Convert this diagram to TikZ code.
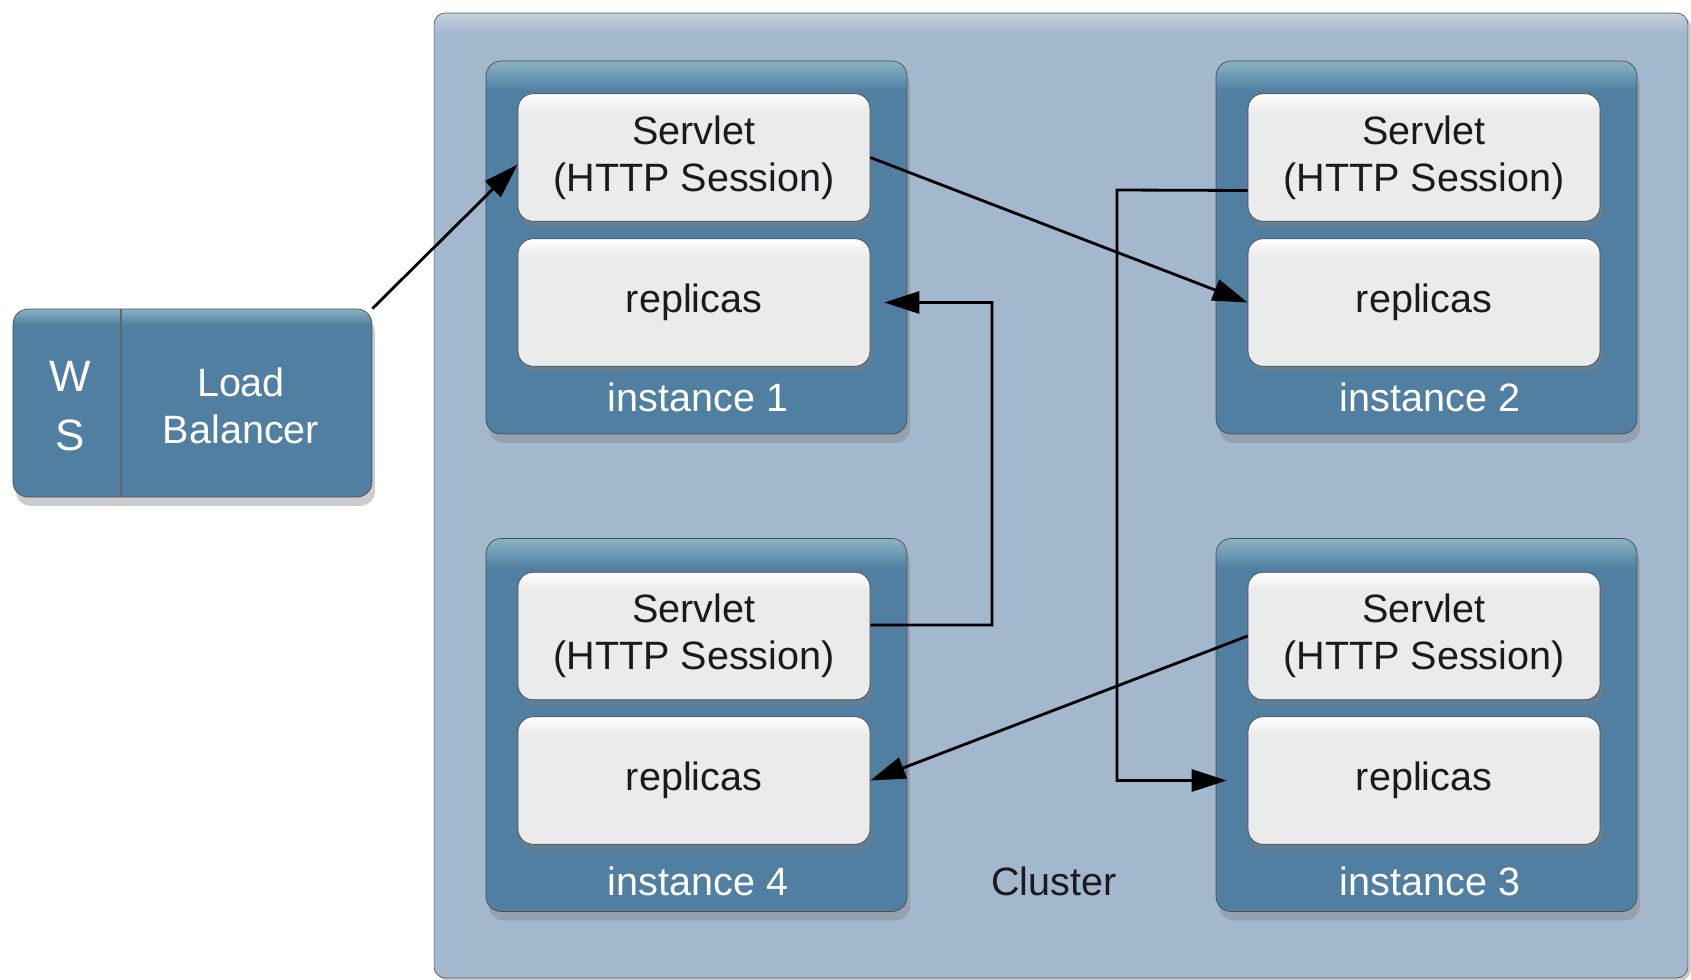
\documentclass[tikz,border=0pt]{standalone}
\usepackage{fontspec}
\setmainfont{Liberation Sans}
\usetikzlibrary{arrows.meta,shadows}

\definecolor{clusterbg}{RGB}{164,184,205}
\definecolor{clusterlight}{RGB}{196,208,220}
\definecolor{instbg}{RGB}{80,127,162}
\definecolor{instlight}{RGB}{138,180,196}
\definecolor{boxbg}{RGB}{235,235,235}
\definecolor{textdark}{RGB}{25,25,30}

\pgfdeclareverticalshading{clustershade}{100bp}{color(0bp)=(clusterbg); color(25bp)=(clusterbg); color(74bp)=(clusterbg); color(75bp)=(clusterlight); color(100bp)=(clusterlight)}
\pgfdeclareverticalshading{instshade}{100bp}{color(0bp)=(instbg); color(25bp)=(instbg); color(71bp)=(instbg); color(75bp)=(instlight); color(100bp)=(instlight)}
\pgfdeclareverticalshading{boxshade}{100bp}{color(0bp)=(boxbg); color(25bp)=(boxbg); color(68bp)=(boxbg); color(75bp)=(white); color(100bp)=(white)}

\newcommand\diagfont{\fontsize{22.5pt}{26.7pt}\selectfont}

\begin{document}
\begin{tikzpicture}[x=0.02cm, y=-0.02cm]
	\tikzstyle{Cluster} = [rectangle, rounded corners=0.22cm, minimum width=25.08cm, minimum height=19.3cm, draw=black!65, shading=clustershade, drop shadow={shadow xshift=0.06cm, shadow yshift=-0.06cm, opacity=0.4}]
	\tikzstyle{Inst} = [rectangle, rounded corners=0.3cm, minimum width=8.42cm, minimum height=7.46cm, draw=black!70, shading=instshade, drop shadow={shadow xshift=0.06cm, shadow yshift=-0.18cm, opacity=0.4}]
	\tikzstyle{Box} = [rectangle, rounded corners=0.3cm, minimum width=7.04cm, minimum height=2.55cm, draw=black!70, shading=boxshade, text=textdark, align=center, font=\diagfont, drop shadow={shadow xshift=0.04cm, shadow yshift=-0.12cm, opacity=0.4}]
	\tikzstyle{Label} = [font=\diagfont, text=white, align=center]
	\tikzstyle{arrow} = [line width=1.6pt, -{Triangle[length=0.7cm, width=0.44cm]}]

	\useasboundingbox [fill=white] (0,0) rectangle (1691,980);

	% cluster and load balancer
	\node (cl) [Cluster] at (1061,495.5) {};
	\node (lb) [Inst, minimum width=7.18cm, minimum height=3.76cm] at (192.5,403) {};
	\draw [draw=black!60, line width=0.8pt] (121,309) -- (121,497);
	\node (ws) [Label, font=\fontsize{25pt}{33.5pt}\selectfont] at (70,406) {W\\S};
	\node (lbt) [Label] at (241,406) {Load\\Balancer};
	\node (clt) [font=\diagfont, text=textdark] at (1054,881) {Cluster};

	% instances
	\node (i1) [Inst] at (696.5,247.5) {};
	\node (i2) [Inst] at (1426.5,247.5) {};
	\node (i4) [Inst] at (696.5,725) {};
	\node (i3) [Inst] at (1426.5,725) {};

	\node (s1) [Box] at (694,157.5) {Servlet\\(HTTP Session)};
	\node (r1) [Box] at (694,302.5) {replicas};
	\node (s2) [Box] at (1424,157.5) {Servlet\\(HTTP Session)};
	\node (r2) [Box] at (1424,302.5) {replicas};
	\node (s4) [Box] at (694,636) {Servlet\\(HTTP Session)};
	\node (r4) [Box] at (694,780.5) {replicas};
	\node (s3) [Box] at (1424,636) {Servlet\\(HTTP Session)};
	\node (r3) [Box] at (1424,780.5) {replicas};

	\node (i1t) [Label] at (698,397) {instance 1};
	\node (i2t) [Label] at (1430,397) {instance 2};
	\node (i4t) [Label] at (698,881) {instance 4};
	\node (i3t) [Label] at (1430,881) {instance 3};

	% replication paths
	\coordinate (bendA) at (992,625);
	\coordinate (bendB) at (1117,190);
	\draw [arrow] (lb.north east) -- ([yshift=-0.14cm]s1.west);
	\draw [arrow] (s1.east) -- (r2.west);
	\draw [arrow, shorten >=0.28cm] ([yshift=0.22cm]s4.east) -- (bendA) |- (r1.east);
	\draw [arrow, shorten >=0.42cm] ([yshift=-0.66cm]s2.west) -- (bendB) |- (r3.west);
	\draw [arrow] (s3.west) -- (r4.east);
\end{tikzpicture}
\end{document}
